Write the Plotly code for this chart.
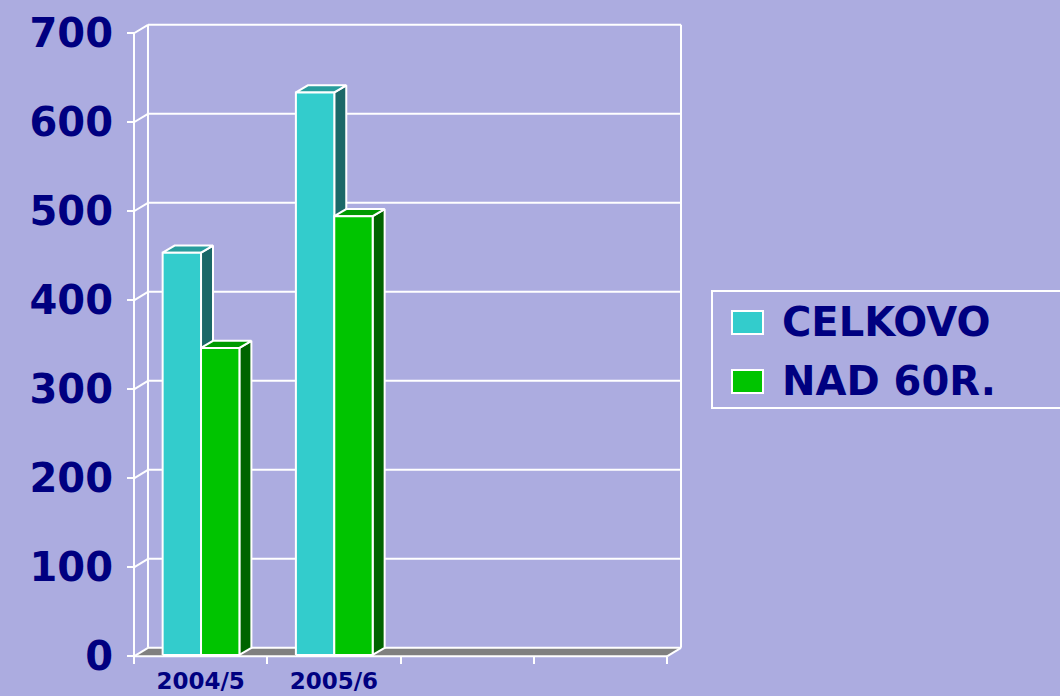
import plotly.graph_objects as go

# ---------------- data ----------------
categories = ["2004/5", "2005/6"]
n_slots = 4                      # category slots on the floor (2 empty)
series_names = ["CELKOVO", "NAD 60R."]
celkovo = [452, 632]
nad_60r = [345, 493]
y_ticks = [0, 100, 200, 300, 400, 500, 600, 700]

# ---------------- style ----------------
W, H = 1060, 696
ML, MR, MT, MB = 118, 369, 19, 29
PW, PH = W - ML - MR, H - MT - MB
X_RANGE = [-0.62, 3.68]
Y_RANGE = [-12, 716]
BG = "#ACACE0"
NAVY = "#000080"
FONT = "DejaVu Sans"
WHITE = "white"

# 3-D depth offsets (axis units)
WDX, WDY = 0.105, 9.5      # back wall vs front plane
FDY = 1.5                  # bar front face slightly behind the front edge
BDX, BDY = 0.09, 8.0       # bar depth
BAR_W = 0.288
GROUP_LEFT = -0.285

face_colors = {
    "CELKOVO": ("#33CCCC", "#279C9C", "#1B6868"),   # front, top, side
    "NAD 60R.": ("#00C400", "#009A00", "#006400"),
}
series_values = {"CELKOVO": celkovo, "NAD 60R.": nad_60r}

x_lo, x_hi = -0.5, n_slots - 0.5
fig = go.Figure()


def poly(xs, ys, fill, line_w=2, line_c=WHITE):
    fig.add_trace(go.Scatter(
        x=xs + [xs[0]], y=ys + [ys[0]], mode="lines", fill="toself",
        fillcolor=fill, line=dict(color=line_c, width=line_w),
        hoverinfo="skip", showlegend=False))


def seg(pairs, width=2):
    xs, ys = [], []
    for (xa, ya), (xb, yb) in pairs:
        xs += [xa, xb, None]
        ys += [ya, yb, None]
    fig.add_trace(go.Scatter(x=xs, y=ys, mode="lines",
                             line=dict(color=WHITE, width=width),
                             hoverinfo="skip", showlegend=False))


# floor
poly([x_lo, x_hi, x_hi + WDX, x_lo + WDX], [0, 0, WDY, WDY], "#808080", line_w=0, line_c="rgba(0,0,0,0)")
# back wall gridlines
seg([((x_lo + WDX, v + WDY), (x_hi + WDX, v + WDY)) for v in y_ticks], width=2)
# left wall diagonals
seg([((x_lo, v), (x_lo + WDX, v + WDY)) for v in y_ticks], width=2)
# verticals: front axis, back-left, back-right, floor edges
seg([((x_lo, 0), (x_lo, y_ticks[-1])),
     ((x_lo + WDX, WDY), (x_lo + WDX, y_ticks[-1] + WDY)),
     ((x_hi + WDX, WDY), (x_hi + WDX, y_ticks[-1] + WDY)),
     ((x_lo, 0), (x_hi, 0)),
     ((x_hi, 0), (x_hi + WDX, WDY))], width=2)

# 3-D bars
for ci, cat in enumerate(categories):
    for si, name in enumerate(series_names):
        v = series_values[name][ci]
        front, top, side = face_colors[name]
        x0 = ci + GROUP_LEFT + si * BAR_W
        x1 = x0 + BAR_W
        b = FDY
        poly([x1, x1 + BDX, x1 + BDX, x1], [b, b + BDY, b + v + BDY, b + v], side)
        poly([x0, x1, x1 + BDX, x0 + BDX], [b + v, b + v, b + v + BDY, b + v + BDY], top)
        fig.add_trace(go.Scatter(
            x=[x0, x1, x1, x0, x0], y=[b, b, b + v, b + v, b], mode="lines",
            fill="toself", fillcolor=front, line=dict(color=WHITE, width=2),
            name=name, showlegend=False,
            hovertemplate=f"{name}<br>{cat}: {v}<extra></extra>"))


def px_x(p):
    return (p - ML) / PW


def px_y(p):
    return (H - MB - p) / PH


# legend (drawn manually to match the large swatches)
shapes = [dict(type="rect", xref="paper", yref="paper",
               x0=px_x(712), x1=px_x(1080), y0=px_y(408), y1=px_y(291),
               line=dict(color=WHITE, width=2), fillcolor="rgba(0,0,0,0)")]
annotations = []
row_y = [322, 381]
for name, ry in zip(series_names, row_y):
    shapes.append(dict(type="rect", xref="paper", yref="paper",
                       x0=px_x(732), x1=px_x(763), y0=px_y(ry + 12), y1=px_y(ry - 11),
                       line=dict(color=WHITE, width=2), fillcolor=face_colors[name][0]))
    annotations.append(dict(xref="paper", yref="paper", x=px_x(780), y=px_y(ry),
                            xanchor="left", yanchor="middle", text=name, showarrow=False,
                            font=dict(family=FONT, size=40, color=NAVY, weight="bold")))

fig.update_layout(
    width=W, height=H, template="none",
    margin=dict(l=ML, r=MR, t=MT, b=MB, autoexpand=False),
    paper_bgcolor=BG, plot_bgcolor=BG,
    showlegend=False,
    shapes=shapes, annotations=annotations,
    xaxis=dict(range=X_RANGE, showgrid=False, zeroline=False, showline=False,
               tickmode="array", tickvals=list(range(len(categories))), ticktext=categories,
               ticks="", anchor="free",
               position=(0 - Y_RANGE[0]) / (Y_RANGE[1] - Y_RANGE[0]),
               tickfont=dict(family=FONT, size=23, color=NAVY, weight="bold"),
               ticklabelstandoff=9,
               minor=dict(tickmode="array",
                          tickvals=[x_lo + k for k in range(n_slots + 1)],
                          ticks="outside", ticklen=7, tickwidth=2, tickcolor=WHITE,
                          showgrid=False),
               automargin=False, fixedrange=True),
    yaxis=dict(range=Y_RANGE, showgrid=False, zeroline=False, showline=False,
               tickmode="array", tickvals=y_ticks,
               ticks="outside", ticklen=7, tickwidth=2, tickcolor=WHITE,
               anchor="free",
               position=(x_lo - X_RANGE[0]) / (X_RANGE[1] - X_RANGE[0]),
               tickfont=dict(family=FONT, size=40, color=NAVY, weight="bold"),
               ticklabelstandoff=6,
               automargin=False, fixedrange=True),
)

fig.write_html(
    "out.html",
    config={"displayModeBar": False},
    post_script="document.body.style.margin='0';document.body.style.overflow='hidden';",
)
